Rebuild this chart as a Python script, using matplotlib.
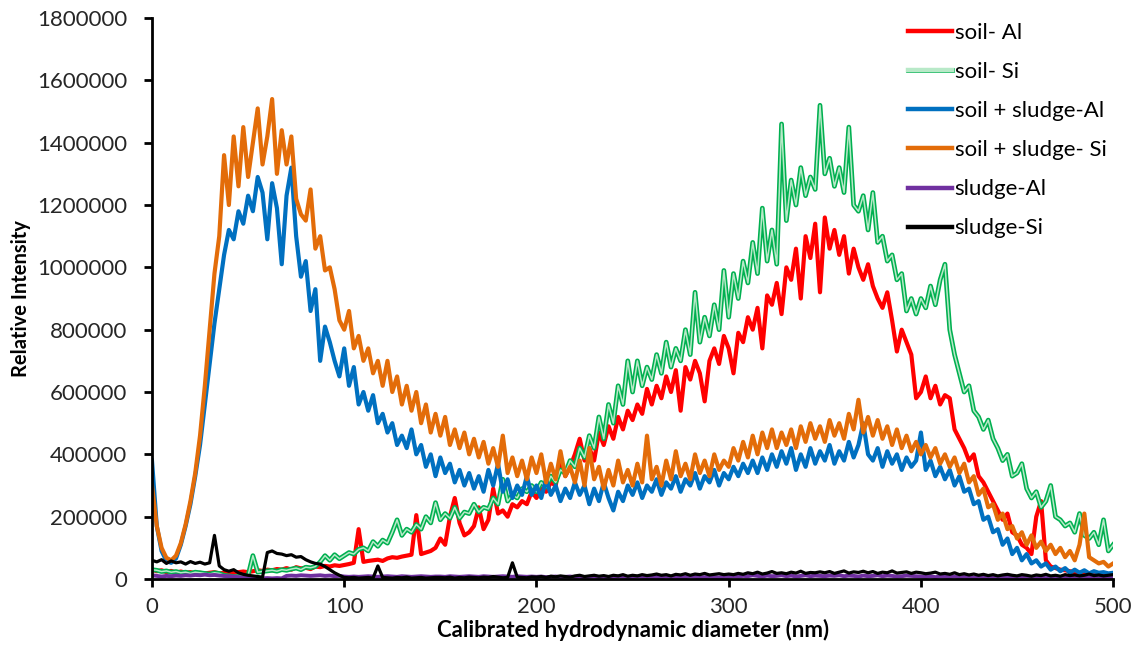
import matplotlib
matplotlib.use("Agg")
import matplotlib.pyplot as plt
import matplotlib.patheffects as pe
import numpy as np

# Hydrodynamic diameter grid (nm), one reading every 2.5 nm
diameter = np.arange(0, 500.1, 2.5)

# Intensities in thousands of counts
soil_al = [
    30, 25, 28, 22, 26, 20, 24, 20, 22, 18, 20, 18, 20, 22, 18, 20, 22, 20, 22, 24,
    22, 25, 28, 26, 30, 28, 32, 30, 35, 30, 38, 34, 36, 32, 40, 38, 42, 40, 44, 42,
    45, 48, 52, 160, 55, 58, 60, 62, 58, 66, 70, 68, 72, 75, 78, 205, 80, 85, 90, 100,
    130, 110, 200, 260, 180, 140, 150, 170, 230, 160, 190, 290, 210, 220, 200, 240, 230, 250, 240, 280,
    260, 290, 280, 310, 300, 380, 330, 360, 400, 450, 380, 420, 380, 470, 430, 490, 450, 520, 480, 540,
    510, 560, 530, 610, 560, 620, 580, 650, 600, 670, 540, 680, 640, 700, 660, 570, 700, 740, 690, 780,
    740, 660, 790, 760, 840, 800, 870, 740, 910, 880, 950, 850, 1000, 960, 1060, 900, 1100, 1030, 1140, 920,
    1160, 1060, 1120, 1040, 1100, 980, 1060, 1000, 960, 1010, 940, 900, 870, 920, 830, 730, 800, 760, 720, 580,
    600, 650, 580, 620, 560, 590, 580, 480, 450, 420, 380, 400, 330, 310, 280, 250, 220, 190, 210, 150,
    140, 110, 100, 80, 200, 250, 60, 40, 35, 30, 28, 25, 22, 20, 20, 18, 18, 16, 15, 15, 14,
]
soil_si = [
    30, 28, 24, 26, 22, 24, 20, 22, 18, 22, 20, 18, 16, 20, 18, 12, 10, 8, 8, 10,
    12, 75, 22, 24, 26, 28, 25, 30, 28, 32, 35, 30, 38, 36, 40, 55, 75, 60, 78, 65,
    75, 85, 80, 95, 100, 90, 120, 105, 125, 115, 150, 190, 140, 160, 150, 175, 160, 200, 180, 245,
    190, 210, 195, 230, 195, 215, 210, 240, 215, 230, 225, 260, 240, 320, 250, 270, 260, 290, 280, 300,
    280, 310, 295, 330, 310, 350, 340, 380, 360, 420, 390, 460, 420, 520, 450, 560, 500, 620, 560, 700,
    600, 700, 620, 680, 640, 720, 660, 760, 680, 740, 700, 800, 720, 920, 760, 840, 780, 880, 800, 990,
    840, 980, 900, 1020, 950, 1080, 980, 1190, 1020, 1120, 1010, 1460, 1150, 1280, 1200, 1320, 1230, 1290, 1250, 1520,
    1300, 1350, 1260, 1320, 1240, 1450, 1200, 1180, 1230, 1120, 1240, 1080, 1100, 1020, 1040, 960, 980, 860, 900, 850,
    900, 870, 940, 880, 960, 1010, 800, 720, 660, 600, 620, 540, 520, 480, 510, 450, 420, 380, 400, 330,
    340, 370, 290, 260, 280, 230, 250, 300, 200, 190, 170, 180, 150, 210, 140, 130, 150, 110, 190, 90, 110,
]
mix_al = [
    380, 170, 90, 58, 52, 66, 110, 170, 240, 330, 430, 560, 690, 820, 930, 1040, 1120, 1090, 1180, 1140,
    1230, 1180, 1290, 1240, 1090, 1270, 1190, 1010, 1230, 1320, 1100, 970, 1020, 860, 930, 700, 810, 760, 700, 650,
    740, 620, 680, 560, 600, 540, 590, 500, 530, 470, 500, 430, 460, 420, 480, 400, 430, 360, 400, 330,
    390, 340, 370, 310, 350, 300, 340, 290, 330, 280, 350, 300, 370, 280, 320, 260, 300, 270, 330, 270,
    300, 260, 320, 270, 300, 250, 290, 260, 310, 270, 300, 240, 290, 250, 310, 260, 220, 280, 250, 300,
    270, 310, 260, 300, 280, 320, 270, 310, 290, 330, 280, 320, 300, 340, 290, 330, 310, 350, 300, 340,
    320, 360, 330, 370, 340, 380, 340, 390, 350, 400, 360, 410, 370, 420, 350, 400, 360, 420, 370, 410,
    380, 430, 370, 410, 380, 440, 390, 430, 500, 400, 380, 420, 360, 410, 370, 400, 350, 390, 360, 380,
    470, 350, 380, 330, 360, 320, 350, 300, 330, 280, 290, 240, 250, 190, 200, 150, 160, 110, 130, 80,
    100, 60, 80, 50, 60, 40, 50, 30, 40, 25, 35, 20, 30, 20, 28, 18, 25, 20, 22, 18, 20,
]
mix_si = [
    300, 170, 100, 68, 60, 75, 115, 175, 250, 340, 460, 620, 800, 980, 1100, 1360, 1200, 1420, 1260, 1450,
    1290, 1400, 1510, 1330, 1420, 1540, 1300, 1440, 1330, 1420, 1220, 1170, 1150, 1250, 1060, 1100, 990, 1000, 930, 830,
    800, 860, 740, 780, 700, 740, 660, 700, 620, 700, 600, 650, 560, 620, 540, 600, 500, 560, 470, 530,
    460, 520, 430, 480, 420, 470, 400, 450, 390, 440, 370, 420, 360, 460, 340, 390, 330, 380, 320, 390,
    340, 400, 310, 370, 320, 410, 330, 360, 310, 380, 300, 420, 320, 360, 290, 350, 300, 380, 310, 350,
    300, 370, 310, 460, 320, 360, 300, 380, 320, 410, 330, 370, 320, 400, 340, 380, 330, 400, 350, 380,
    360, 420, 380, 440, 390, 460, 400, 470, 420, 480, 420, 470, 430, 480, 420, 490, 440, 500, 450, 490,
    440, 510, 460, 500, 450, 530, 480, 575, 470, 520, 460, 510, 450, 490, 430, 480, 420, 460, 410, 440,
    400, 430, 390, 420, 370, 400, 360, 390, 340, 370, 310, 330, 270, 290, 230, 240, 190, 210, 160, 170,
    130, 150, 110, 140, 100, 120, 90, 110, 80, 100, 70, 90, 60, 110, 210, 70, 60, 50, 55, 40, 50,
]
sludge_al = [
    12, 10, 8, 10, 9, 11, 10, 12, 11, 13, 12, 14, 12, 13, 11, 10, 9, 8, 6, 5,
    4, 3, 3, 2, 3, 2, 3, 2, 10, 11, 10, 12, 11, 10, 11, 12, 10, 11, 9, 10,
    8, 7, 8, 7, 8, 9, 8, 7, 8, 9, 8, 7, 9, 8, 7, 8, 9, 8, 7, 8,
    8, 7, 9, 8, 7, 8, 9, 8, 7, 9, 8, 7, 8, 9, 8, 7, 9, 8, 7, 8,
    7, 8, 6, 7, 8, 6, 7, 8, 6, 7, 5, 7, 8, 6, 7, 5, 6, 8, 7, 6,
    6, 8, 7, 5, 6, 7, 5, 8, 6, 7, 5, 6, 8, 7, 5, 6, 7, 6, 5, 7,
    7, 9, 8, 10, 9, 12, 10, 8, 11, 9, 10, 12, 9, 11, 8, 10, 12, 9, 11, 10,
    9, 11, 10, 12, 9, 11, 10, 8, 11, 9, 10, 12, 9, 11, 10, 8, 9, 11, 10, 9,
    8, 7, 9, 6, 8, 7, 6, 8, 5, 7, 6, 5, 7, 6, 5, 6, 4, 5, 6, 4,
    5, 4, 6, 5, 4, 5, 3, 4, 5, 3, 4, 5, 3, 4, 3, 5, 4, 3, 4, 3, 4,
]
sludge_si = [
    60, 55, 62, 50, 58, 52, 55, 48, 56, 50, 54, 48, 52, 140, 42, 30, 25, 30, 20, 15,
    12, 10, 8, 6, 85, 90, 82, 80, 75, 78, 70, 72, 62, 55, 50, 48, 40, 30, 20, 12,
    5, 4, 5, 3, 4, 5, 3, 42, 5, 4, 3, 5, 4, 6, 3, 4, 5, 3, 4, 5,
    5, 4, 6, 3, 5, 4, 6, 5, 4, 6, 5, 8, 6, 4, 5, 52, 6, 5, 4, 7,
    6, 8, 5, 9, 7, 10, 8, 6, 10, 12, 8, 10, 12, 9, 11, 8, 12, 10, 14, 9,
    12, 10, 14, 11, 13, 16, 12, 14, 10, 15, 13, 17, 12, 16, 14, 18, 13, 15, 17, 14,
    16, 14, 18, 15, 20, 17, 22, 16, 19, 24, 18, 20, 17, 22, 19, 25, 18, 21, 20, 23,
    20, 24, 18, 22, 26, 19, 23, 21, 25, 20, 24, 18, 22, 20, 26, 19, 21, 23, 18, 22,
    20, 17, 19, 22, 16, 18, 15, 20, 14, 17, 13, 16, 12, 15, 11, 14, 10, 13, 15, 12,
    10, 14, 12, 9, 13, 11, 15, 10, 12, 9, 14, 11, 13, 10, 12, 16, 11, 13, 10, 12, 14,
]

labels = ["soil- Al", "soil- Si", "soil + sludge-Al", "soil + sludge- Si",
          "sludge-Al", "sludge-Si"]

plt.rcParams["font.family"] = ["Lato", "DejaVu Sans"]

fig = plt.figure(figsize=(11.47, 6.53), dpi=100)
ax = fig.add_axes([0.1325, 0.1133, 0.838, 0.8591])

def k(vals):
    return np.array(vals) * 1000

ax.plot(diameter, k(soil_al), color="#ff0000", lw=3.0, label=labels[0])
# soil-Si is drawn as a hollow (double) green line
ax.plot(diameter, k(soil_si), color="#b8e9c8", lw=1.1, label=labels[1],
        path_effects=[pe.Stroke(linewidth=3.4, foreground="#00b050"), pe.Normal()])
ax.plot(diameter, k(mix_al), color="#0070c0", lw=3.0, label=labels[2])
ax.plot(diameter, k(mix_si), color="#e36c09", lw=3.0, label=labels[3])
ax.plot(diameter, k(sludge_al), color="#7030a0", lw=2.8, label=labels[4])
ax.plot(diameter, k(sludge_si), color="black", lw=2.3, label=labels[5])

ax.set_xlim(0, 500)
ax.set_ylim(0, 1800000)
ax.set_xticks(np.arange(0, 501, 100))
ax.set_yticks(np.arange(0, 1800001, 200000))
ax.yaxis.set_major_formatter(matplotlib.ticker.FuncFormatter(lambda v, p: f"{int(v)}"))

for side in ("top", "right"):
    ax.spines[side].set_visible(False)
for side in ("left", "bottom"):
    ax.spines[side].set_linewidth(2.0)
ax.tick_params(axis="both", direction="out", length=6, width=2.0,
               labelsize=16, colors="black", labelcolor="#262626")
ax.tick_params(axis="x", pad=7)
ax.tick_params(axis="y", pad=12)

ax.set_xlabel("Calibrated hydrodynamic diameter (nm)", fontsize=16,
              fontweight="bold", labelpad=1)
ax.set_ylabel("Relative Intensity", fontsize=14.5, fontweight="bold", labelpad=4)

leg = ax.legend(loc="upper left", bbox_to_anchor=(899 / 1147, 1 - 14 / 653),
                bbox_transform=fig.transFigure, frameon=False, fontsize=16,
                handlelength=2.0, handletextpad=0.1, labelspacing=0.86,
                borderaxespad=0)
for line in leg.get_lines():
    line.set_linewidth(3.2)

fig.savefig("out.png", dpi=100)
